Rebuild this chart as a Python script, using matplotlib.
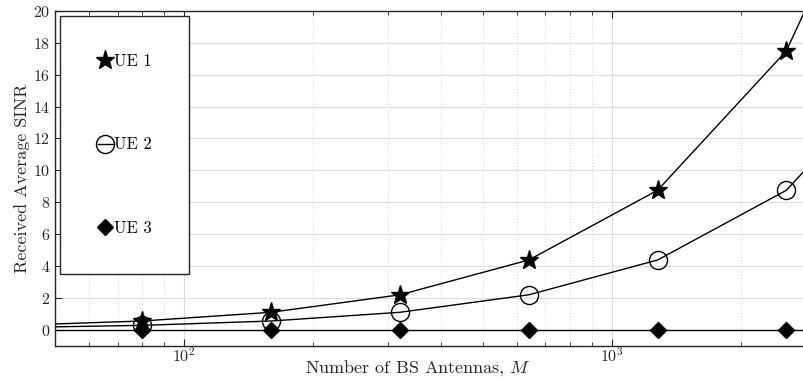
import numpy as np
import matplotlib.pyplot as plt

plt.rcParams['font.family'] = 'serif'
plt.rcParams['font.serif'] = ['cmr10']
plt.rcParams['mathtext.fontset'] = 'cm'
plt.rcParams['axes.formatter.use_mathtext'] = True

# number of antennas (points outside the view keep the lines running to the edges)
M = [40, 80, 160, 320, 640, 1280, 2560, 5120]
ue1 = [0.273, 0.547, 1.094, 2.19, 4.375, 8.75, 17.5, 35.0]
ue2 = [0.137, 0.273, 0.547, 1.094, 2.19, 4.375, 8.75, 17.5]
ue3 = [0.0, 0.0, 0.0, 0.0, 0.0, 0.0, 0.0, 0.0]

fig = plt.figure(figsize=(8.04, 3.79), dpi=100)
ax = fig.add_axes([0.0684, 0.088, 0.9304, 0.883])

ax.plot(M, ue1, color='black', lw=1, marker='*', ms=14, label='UE 1')
ax.plot(M, ue2, color='black', lw=1, marker='o', ms=13, mfc='none', mew=1, label='UE 2')
ax.plot(M, ue3, color='black', lw=1, marker='D', ms=8, label='UE 3')

ax.set_xscale('log')
ax.set_xlim(50, 2800)
ax.set_ylim(-1, 20)
ax.set_yticks(np.arange(0, 21, 2))

ax.grid(True, which='major', color='#dcdcdc', lw=0.8)
ax.grid(True, which='minor', axis='x', color='#dcdcdc', lw=0.8, linestyle=':')
ax.set_axisbelow(True)

ax.tick_params(which='both', direction='in', top=True, right=False, colors='#262626', labelsize=11.5)
ax.tick_params(axis='x', pad=0.5)
ax.tick_params(which='major', length=5)
ax.tick_params(which='minor', length=3)
for s in ax.spines.values():
    s.set_color('#262626')
    s.set_linewidth(1)
ax.spines['right'].set_visible(False)

ax.set_xlabel('Number of BS Antennas, $M$', fontsize=13, color='#262626')
ax.xaxis.set_label_coords(0.4846, -0.038)
ax.set_ylabel('Received Average SINR', fontsize=13, color='#262626', labelpad=2)

leg = ax.legend(loc='upper left', bbox_to_anchor=(0.0067, 0.985), borderaxespad=0,
                numpoints=1, fontsize=12,
                labelspacing=4.1, borderpad=2.25, handlelength=0.9, handletextpad=0.1,
                fancybox=False, framealpha=1, edgecolor='#262626')
leg.get_frame().set_linewidth(1)
# only the circle keeps its short line segment in the legend
lines = leg.get_lines()
lines[0].set_linestyle('none')
lines[2].set_linestyle('none')

fig.savefig('out.png', dpi=100)
